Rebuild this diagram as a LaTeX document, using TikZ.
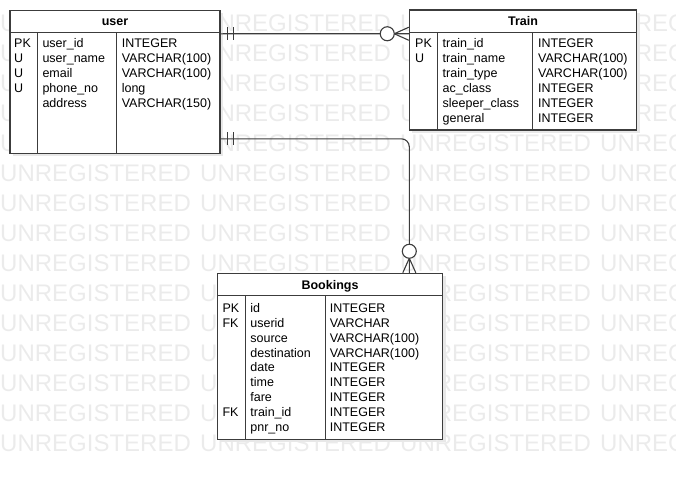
\documentclass[tikz,border=0pt]{standalone}
\usepackage{fontspec}
\setmainfont{Liberation Sans}
\usetikzlibrary{shadows}

\definecolor{erline}{HTML}{3C3C3C}
\definecolor{wmgray}{HTML}{EBEBEB}

\tikzset{
  tbl/.style={draw=erline, line width=1.1pt, fill=white,
    drop shadow={shadow xshift=3pt, shadow yshift=-3pt, fill=black!9, opacity=1}},
  rel/.style={draw=erline, line width=1.1pt},
  fld/.style={anchor=base west, inner sep=0pt, font=\fontsize{12.5}{14}\selectfont},
  ttl/.style={anchor=base, inner sep=0pt, font=\fontsize{12.5}{14}\selectfont\bfseries},
  wm/.style={anchor=base west, inner sep=0pt, text=wmgray, font=\fontsize{24}{28}\selectfont}
}

\begin{document}
\begin{tikzpicture}[x=1pt, y=-1pt]
      \useasboundingbox (0,0) rectangle (676,479);
      % watermark
      \foreach \r in {0,...,14}{
        \foreach \c in {0,...,3}{
          \node[wm] (W\r-\c) at (\c*200, 31.7+\r*30) {UNREGISTERED};
        }
      }
      % tables
      \node[tbl, minimum width=210pt, minimum height=143.3pt] (user) at (115, 81.7) {};
      \node[tbl, minimum width=227.4pt, minimum height=120pt] (train) at (523, 70) {};
      \node[tbl, minimum width=225.4pt, minimum height=166pt] (bookings) at (330, 356.3) {};
      \foreach \t/\h/\a/\b in {user/22.7/28.3/106.7, train/22.7/28.4/124, bookings/22.4/28.4/108.4}{
        \draw[rel] ([yshift=-\h pt]\t.north west) -- ([yshift=-\h pt]\t.north east);
        \draw[rel] ([xshift=\a pt, yshift=-\h pt]\t.north west) -- ([xshift=\a pt]\t.south west);
        \draw[rel] ([xshift=\b pt, yshift=-\h pt]\t.north west) -- ([xshift=\b pt]\t.south west);
      }
      \node[ttl] (Tuser) at (115, 25) {user};
      \node[ttl] (Ttrain) at (523, 25) {Train};
      \node[ttl] (Tbookings) at (330, 289) {Bookings};
      % user fields
      \foreach \k/\i in {PK/1, U/2, U/3, U/4}{
        \node[fld] (UK\i) at (14, 32.7+\i*15) {\k};
      }
      \foreach \n/\v/\i in {user\_id/INTEGER/1, user\_name/VARCHAR(100)/2, email/VARCHAR(100)/3,
                            phone\_no/long/4, address/VARCHAR(150)/5}{
        \node[fld] (UN\i) at (42.3, 32.7+\i*15) {\n};
        \node[fld] (UV\i) at (121.6, 32.7+\i*15) {\v};
      }
      % train fields
      \foreach \k/\i in {PK/1, U/2}{
        \node[fld] (TK\i) at (415, 32.7+\i*15) {\k};
      }
      \foreach \n/\v/\i in {train\_id/INTEGER/1, train\_name/VARCHAR(100)/2, train\_type/VARCHAR(100)/3,
                            ac\_class/INTEGER/4, sleeper\_class/INTEGER/5, general/INTEGER/6}{
        \node[fld] (TN\i) at (442.5, 32.7+\i*15) {\n};
        \node[fld] (TV\i) at (538, 32.7+\i*15) {\v};
      }
      % bookings fields
      \foreach \k/\i in {PK/1, FK/2, FK/8}{
        \node[fld] (BK\i) at (222.4, 297.4+\i*14.9) {\k};
      }
      \foreach \n/\v/\i in {id/INTEGER/1, userid/VARCHAR/2, source/VARCHAR(100)/3, destination/VARCHAR(100)/4,
                            date/INTEGER/5, time/INTEGER/6, fare/INTEGER/7, train\_id/INTEGER/8, pnr\_no/INTEGER/9}{
        \node[fld] (BN\i) at (250.2, 297.4+\i*14.9) {\n};
        \node[fld] (BV\i) at (329.6, 297.4+\i*14.9) {\v};
      }
      % relations
      \coordinate (ua) at ([yshift=-24.3pt]user.north east);
      \coordinate (ub) at ([yshift=-129.3pt]user.north east);
      \coordinate (ta) at ([yshift=-24.3pt]train.north west);
      \coordinate (bt) at ([xshift=79.3pt]bookings.north);
      \draw[rel] (ua) -- (ta);
      \draw[rel, rounded corners=8pt] (ub) -| (bt);
      \foreach \e in {ua, ub}{
        \foreach \d in {7, 12.5}{
          \draw[rel] ([xshift=\d pt]\e) ++(0,-6.5) -- ++(0,13);
        }
      }
      \draw[rel] (ta) ++(-14.5,0) -- ++(14.5,-6.5) (ta) ++(-14.5,0) -- ++(14.5,6.5);
      \draw[rel, fill=white] (ta) ++(-21.5,0) circle[radius=7];
      \draw[rel] (bt) ++(0,-14.5) -- ++(-6.5,14.5) (bt) ++(0,-14.5) -- ++(6.5,14.5);
      \draw[rel, fill=white] (bt) ++(0,-21.5) circle[radius=7];
    \end{tikzpicture}
\end{document}
